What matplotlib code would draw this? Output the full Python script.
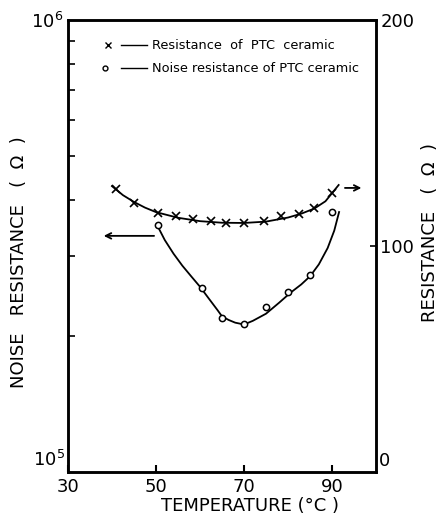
import numpy as np
import matplotlib
matplotlib.use('Agg')
import matplotlib.pyplot as plt
from matplotlib.ticker import LogLocator, FixedLocator, NullFormatter

# resistance of PTC ceramic (right axis, ohm)
res_temp = [41, 45, 50.5, 54.5, 58.5, 62.5, 66, 70, 74.5, 78.5, 82.5, 86, 90]
res_vals = [125.2, 119, 114.6, 113.3, 112, 111, 110.2, 110.2, 111, 113.3, 114.2, 116.8, 123.5]
# smooth line drawn through the crosses
res_line_t = [40, 42.5, 45, 47.5, 50, 55, 60, 65, 70, 75, 80, 83, 86, 88.5, 91.5]
res_line_v = [126.5, 122.5, 119.5, 117, 115, 112.5, 111, 110.3, 110.2, 110.8, 112.6, 114.3, 116.6, 119.8, 127]

# noise resistance of PTC ceramic (left axis, ohm, log)
noise_temp = [50.5, 60.5, 65, 70, 75, 80, 85, 90]
noise_vals = [3.52e5, 2.55e5, 2.19e5, 2.13e5, 2.32e5, 2.50e5, 2.73e5, 3.76e5]
noise_line_t = [50.5, 52, 54, 56, 58, 60, 62, 64, 65, 66.5, 68, 70, 72, 75, 78, 80.5, 83,
                85, 87, 89, 90.5, 91.6]
noise_line_v = [3.48e5, 3.26e5, 3.04e5, 2.86e5, 2.71e5, 2.57e5, 2.42e5, 2.28e5, 2.21e5, 2.17e5,
                2.14e5, 2.12e5, 2.16e5, 2.24e5, 2.37e5, 2.49e5, 2.60e5, 2.71e5, 2.88e5,
                3.13e5, 3.42e5, 3.76e5]

plt.rcParams['font.family'] = ['DejaVu Sans']
plt.rcParams['mathtext.fontset'] = 'dejavusans'

fig = plt.figure(figsize=(4.44, 5.2), dpi=100)
ax = fig.add_axes([0.153, 0.0923, 0.694, 0.8692])
ax2 = ax.twinx()

ax.set_yscale('log')
ax.set_ylim(1e5, 1e6)
ax.set_xlim(30, 100)
ax2.set_ylim(0, 200)

ax.plot(noise_line_t, noise_line_v, color='black', lw=1.3)
ax.plot(noise_temp, noise_vals, 'o', mfc='white', mec='black', ms=4.5, mew=1.1)
ax2.plot(res_line_t, res_line_v, color='black', lw=1.3)
ax2.plot(res_temp, res_vals, 'x', color='black', ms=5.5, mew=1.2)

for a in (ax, ax2):
    for s in a.spines.values():
        s.set_linewidth(1.8)

ax.xaxis.set_major_locator(FixedLocator([30, 50, 70, 90]))
ax.tick_params(axis='x', direction='in', length=5, width=1.5, labelsize=13, pad=4)
ax.yaxis.set_major_locator(FixedLocator([1e6]))
ax.set_yticklabels(['$10^6$'])
ax.yaxis.set_minor_locator(LogLocator(base=10, subs=np.arange(2, 10)))
ax.yaxis.set_minor_formatter(NullFormatter())
ax.tick_params(axis='y', which='major', direction='in', length=0, labelsize=13, pad=3)
ax.tick_params(axis='y', which='minor', direction='in', length=5, width=1.2)
# bottom labels sit a little above the corner
ax.text(-0.01, 0.005, '$10^5$', transform=ax.transAxes, ha='right', va='bottom', fontsize=13)

ax2.yaxis.set_major_locator(FixedLocator([100, 200]))
ax2.tick_params(axis='y', direction='in', length=4, width=1.2, labelsize=13, pad=3)
ax2.text(1.01, 0.005, '0', transform=ax2.transAxes, ha='left', va='bottom', fontsize=13)

ax.set_xlabel('TEMPERATURE (°C )', fontsize=13)
ax.xaxis.set_label_coords(0.59, -0.055)
ax.set_ylabel('NOISE   RESISTANCE   (  Ω  )', fontsize=13)
ax.yaxis.set_label_coords(-0.13, 0.465)
ax2.set_ylabel('RESISTANCE   (  Ω  )', fontsize=13)
ax2.yaxis.set_label_coords(1.146, 0.53)

# direction arrows
ax.annotate('', xy=(37.5, 3.33e5), xytext=(50.2, 3.33e5),
            arrowprops=dict(arrowstyle='->', color='black', lw=1.3))
ax2.annotate('', xy=(97.3, 125.7), xytext=(92.3, 125.7),
             arrowprops=dict(arrowstyle='->', color='black', lw=1.3))

# legend drawn as text
ax.plot([39], [8.8e5], 'x', color='black', ms=5, mew=1.0)
ax.plot([42, 48], [8.8e5, 8.8e5], color='black', lw=1.0)
ax.text(49, 8.8e5, 'Resistance  of  PTC  ceramic', fontsize=9.3, va='center')
ax.plot([38.5], [7.83e5], 'o', mfc='white', mec='black', ms=3.5, mew=1.0)
ax.plot([42, 48], [7.83e5, 7.83e5], color='black', lw=1.0)
ax.text(49, 7.83e5, 'Noise resistance of PTC ceramic', fontsize=9.3, va='center')

fig.savefig('out.png', dpi=100)
